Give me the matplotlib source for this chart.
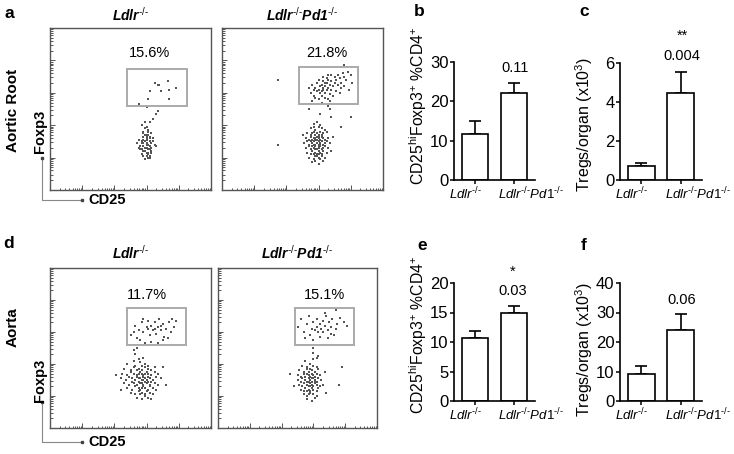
import matplotlib
matplotlib.use("Agg")
import matplotlib.pyplot as plt
from matplotlib.lines import Line2D
from matplotlib.patches import Rectangle
from matplotlib.ticker import LogLocator, NullFormatter

plt.rcParams['font.family'] = ['Liberation Sans', 'DejaVu Sans']
plt.rcParams['mathtext.fontset'] = 'custom'
plt.rcParams['mathtext.rm'] = 'Liberation Sans'
plt.rcParams['mathtext.it'] = 'Liberation Sans:italic'
plt.rcParams['mathtext.bf'] = 'Liberation Sans:bold'
plt.rcParams['mathtext.bfit'] = 'Liberation Sans:italic:bold'
plt.rcParams['mathtext.sf'] = 'Liberation Sans'

# ---------------- data ----------------
genotypes = [r'$\mathit{Ldlr}^{\text{-/-}}$', r'$\mathit{Ldlr}^{\text{-/-}}\mathit{Pd1}^{\text{-/-}}$']
flow_titles = [r'$\mathbfit{Ldlr}^{\text{-/-}}$', r'$\mathbfit{Ldlr}^{\text{-/-}}\mathbfit{Pd1}^{\text{-/-}}$']

# percentages in gate
pct_root = ['15.6%', '21.8%']
pct_aorta = ['11.7%', '15.1%']

# gates (CD25 lo, CD25 hi, Foxp3 lo, Foxp3 hi) in channel units 0-100
gate_root = [(47.6, 85.3, 51.9, 74.7), (47.6, 84.7, 52.9, 75.7)]
gate_aorta = [(47.6, 84.5, 51.9, 75.0), (48.4, 85.7, 51.9, 75.0)]

# events (CD25, Foxp3) in channel units 0-100
ev_root_ldlr = [
    (65, 66), (68, 65), (67, 65), (73, 67), (78, 63), (74, 62), (69, 61), (62, 61), (74, 56), (61, 56),
    (55, 53), (60, 51), (67, 49), (66, 47), (64, 44), (62, 42),
    (57, 40), (59, 38), (61, 36), (63, 35), (58, 33), (60, 34), (62, 32), (55, 31), (64, 30), (60, 31),
    (58, 29), (61, 28), (59, 30), (56, 27), (62, 27), (60, 26), (57, 25), (63, 26), (65, 28), (58, 24),
    (60, 23), (61, 22), (59, 24), (62, 21), (54, 29), (66, 27), (60, 33), (58, 35), (57, 22), (61, 20),
    (63, 23), (59, 19), (60, 28), (62, 30), (58, 36), (56, 25), (61, 37), (64, 32), (59, 26), (60, 21),
    (57, 29), (62, 25), (60, 29), (58, 31), (61, 34), (63, 24), (59, 42), (55, 26), (60, 39), (62, 20),
    (58, 27), (61, 23), (60, 32), (59, 34), (57, 30), (63, 29), (60, 28), (62, 33), (58, 21), (61, 25),
]
ev_root_pd1 = [
    (55, 60), (57, 58), (58, 63), (59, 66), (60, 62), (61, 64), (62, 65), (62, 61), (63, 63), (63, 67),
    (64, 64), (64, 60), (65, 66), (65, 62), (66, 63), (66, 68), (67, 65), (67, 59), (68, 67), (68, 62),
    (69, 64), (70, 70), (70, 66), (71, 68), (72, 65), (72, 71), (73, 69), (74, 66), (75, 72), (76, 70),
    (77, 68), (78, 73), (80, 71), (79, 62), (56, 65), (58, 57), (60, 56), (62, 58), (64, 57), (66, 56),
    (61, 60), (59, 61), (57, 62), (65, 69), (63, 70), (68, 71), (74, 63), (71, 61), (69, 58), (60, 68),
    (56, 55), (54, 63), (67, 55), (73, 60), (76, 64), (81, 66), (62, 54), (66, 71), (64, 66), (63, 62),
    (35, 68), (76, 77), (67, 50), (54, 50), (61, 47), (68, 45), (80, 45), (74, 39), (35, 28), (66, 52),
    (57, 41), (61, 40), (59, 42), (55, 38), (58, 37), (60, 39), (62, 38), (64, 37), (57, 39),
    (53, 35), (55, 34), (57, 36), (58, 34), (59, 35), (61, 36), (62, 34), (63, 35), (65, 36), (60, 34), (56, 35),
    (52, 32), (54, 31), (55, 33), (57, 32), (58, 31), (59, 33), (60, 32), (61, 31), (62, 33), (63, 32),
    (64, 31), (66, 32), (56, 31), (60, 33), (58, 32),
    (51, 29), (53, 30), (54, 28), (56, 29), (57, 30), (58, 28), (59, 29), (60, 30), (60, 28), (61, 29),
    (62, 30), (63, 28), (64, 29), (65, 30), (67, 29), (59, 31), (61, 28), (57, 28), (55, 30),
    (52, 26), (54, 27), (55, 25), (57, 26), (58, 27), (59, 25), (60, 26), (61, 27), (62, 25), (63, 26),
    (64, 27), (66, 26), (60, 27), (58, 25), (56, 27),
    (53, 23), (55, 22), (56, 24), (58, 23), (59, 22), (60, 24), (61, 23), (62, 22), (63, 24), (65, 23),
    (57, 22), (60, 22), (54, 20), (57, 19), (58, 21), (60, 20), (61, 19), (62, 21), (64, 20), (59, 21),
    (56, 17), (60, 16), (63, 18), (58, 18), (69, 33), (68, 24), (50, 34),
]
ev_aorta_ldlr = [
    (50, 58), (53, 64), (55, 61), (57, 66), (58, 60), (60, 63), (61, 67), (62, 58), (63, 64), (64, 61),
    (65, 66), (66, 59), (67, 63), (68, 68), (69, 61), (70, 65), (71, 57), (72, 62), (74, 66), (75, 60),
    (76, 68), (77, 63), (56, 55), (59, 53), (63, 54), (67, 53), (70, 55), (73, 56), (52, 60), (61, 62),
    (65, 62), (69, 64), (78, 67), (54, 56), (58, 68), (52, 49), (53, 46), (55, 43), (54, 50),
    (55, 43), (58, 44), (52, 42), (48, 40), (53, 39), (56, 41), (59, 40), (61, 39), (57, 39),
    (46, 37), (50, 36), (52, 38), (55, 37), (57, 36), (59, 38), (61, 37), (63, 36), (65, 38), (54, 36),
    (45, 34), (48, 33), (50, 35), (52, 34), (54, 33), (56, 35), (57, 34), (58, 33), (60, 35), (61, 34),
    (63, 33), (65, 35), (67, 34), (55, 34), (59, 34),
    (44, 31), (47, 30), (49, 32), (51, 31), (53, 30), (54, 32), (56, 31), (57, 30), (58, 32), (59, 31),
    (60, 30), (61, 32), (62, 31), (64, 30), (66, 32), (69, 31), (55, 31), (58, 30),
    (46, 28), (49, 27), (51, 29), (52, 28), (54, 27), (55, 29), (57, 28), (58, 27), (59, 29), (60, 28),
    (62, 27), (63, 29), (65, 28), (67, 27), (56, 28), (61, 29),
    (48, 25), (51, 24), (53, 26), (55, 25), (56, 24), (58, 26), (59, 25), (61, 24), (62, 26), (64, 25),
    (66, 24), (57, 25), (50, 22), (53, 21), (55, 23), (57, 22), (59, 21), (60, 23), (62, 22), (64, 21),
    (56, 21), (54, 19), (57, 18), (59, 20), (61, 19), (63, 18), (41, 33), (70, 38), (72, 27), (44, 24),
]
ev_aorta_pd1 = [
    (50, 63), (52, 68), (54, 60), (56, 65), (58, 58), (59, 62), (60, 66), (62, 63), (63, 60), (64, 65),
    (65, 62), (66, 67), (67, 64), (68, 70), (69, 61), (70, 66), (71, 63), (72, 68), (74, 62), (75, 65),
    (77, 69), (79, 66), (81, 64), (55, 56), (60, 55), (64, 57), (69, 56), (73, 58), (57, 70), (62, 68),
    (67, 72), (74, 74), (61, 61), (66, 60), (71, 59),
    (60, 50), (60, 47), (63, 45), (45, 34), (78, 38), (76, 27), (62, 44),
    (55, 42), (60, 43), (53, 39), (56, 38), (58, 40), (60, 39), (62, 38),
    (51, 36), (54, 35), (56, 37), (57, 35), (59, 36), (61, 35), (63, 37), (58, 37),
    (50, 33), (52, 32), (54, 34), (55, 32), (57, 33), (58, 32), (59, 34), (60, 33), (61, 32), (62, 34),
    (64, 33), (56, 34),
    (50, 30), (52, 29), (53, 31), (55, 30), (56, 29), (57, 31), (58, 30), (59, 29), (60, 31), (61, 30),
    (62, 29), (63, 31), (65, 30), (57, 29), (59, 31), (61, 29),
    (51, 27), (53, 26), (54, 28), (56, 27), (57, 26), (58, 28), (59, 27), (60, 26), (61, 28), (62, 27),
    (64, 26), (66, 27), (58, 26),
    (52, 24), (54, 23), (55, 25), (57, 24), (58, 23), (59, 25), (60, 24), (62, 23), (63, 25), (56, 23),
    (54, 21), (56, 20), (58, 22), (60, 21), (62, 20), (57, 21), (56, 18), (59, 17), (61, 19),
    (48, 26), (67, 35), (68, 22),
]

# bar data: mean and SEM
root_pct_mean = [11.6, 22.0]
root_pct_sem = [3.3, 2.7]
root_cnt_mean = [0.72, 4.45]
root_cnt_sem = [0.16, 1.1]
aorta_pct_mean = [10.6, 15.0]
aorta_pct_sem = [1.3, 1.1]
aorta_cnt_mean = [9.3, 24.2]
aorta_cnt_sem = [2.4, 5.2]

p_root_pct = ['0.11']
p_root_cnt = ['**', '0.004']
p_aorta_pct = ['*', '0.03']
p_aorta_cnt = ['0.06']

# ---------------- figure ----------------
W, H = 734, 454
fig = plt.figure(figsize=(W / 100, H / 100), dpi=100)


def fax(x0, y0, x1, y1):
    return fig.add_axes([x0 / W, 1 - y1 / H, (x1 - x0) / W, (y1 - y0) / H])


def ftext(x, y, s, **kw):
    kw.setdefault('ha', 'center')
    kw.setdefault('va', 'center')
    return fig.text(x / W, 1 - y / H, s, **kw)


def flow_panel(box, events, gate, pct, pct_pos, title, title_y):
    x0, y0, x1, y1 = box
    # tick overlay (log decades)
    axt = fax(x0, y0, x1, y1)
    axt.set_xscale('log')
    axt.set_yscale('log')
    axt.set_xlim(1, 1e5)
    axt.set_ylim(1, 1e5)
    for a in (axt.xaxis, axt.yaxis):
        a.set_major_locator(LogLocator(base=10, numticks=20))
        a.set_minor_locator(LogLocator(base=10, subs=(2, 3, 4, 5, 6, 7, 8, 9), numticks=20))
        a.set_minor_formatter(NullFormatter())
    axt.tick_params(which='both', direction='in', colors='#555555', labelbottom=False,
                    labelleft=False, top=False, right=False, width=0.7)
    axt.tick_params(which='major', length=3.5)
    axt.tick_params(which='minor', length=1.8)
    for s in axt.spines.values():
        s.set_visible(False)
    axt.patch.set_visible(False)
    ax = fax(x0, y0, x1, y1)
    ax.patch.set_visible(False)
    ax.set_xlim(0, 100)
    ax.set_ylim(0, 100)
    ax.set_xticks([])
    ax.set_yticks([])
    for s in ax.spines.values():
        s.set_color('#555555')
        s.set_linewidth(1.0)
    ex = [e[0] for e in events]
    ey = [e[1] for e in events]
    ax.scatter(ex, ey, s=0.7, marker='s', color='#555555', linewidths=0)
    g0, g1, h0, h1 = gate
    ax.add_patch(Rectangle((g0, h0), g1 - g0, h1 - h0, fill=False, edgecolor='#aaaaaa', lw=1.4))
    ax.text(pct_pos[0], pct_pos[1], pct, ha='center', va='center', fontsize=10.5)
    ftext((x0 + x1) / 2, title_y, title, fontsize=10)


flow_panel((50, 28, 211, 190), ev_root_ldlr, gate_root[0], pct_root[0], (62, 84.6), flow_titles[0], 15)
flow_panel((222, 28, 383, 190), ev_root_pd1, gate_root[1], pct_root[1], (65, 84.6), flow_titles[1], 15)
flow_panel((50, 268, 211, 428), ev_aorta_ldlr, gate_aorta[0], pct_aorta[0], (60, 83), flow_titles[0], 253)
flow_panel((218, 268, 377, 428), ev_aorta_pd1, gate_aorta[1], pct_aorta[1], (67, 83), flow_titles[1], 253)

# side labels and axis arrows
ftext(13, 110, 'Aortic Root', rotation=90, fontsize=11, fontweight='bold')
ftext(13, 327, 'Aorta', rotation=90, fontsize=11, fontweight='bold')
for (yv, yh, yfox) in [(158, 200, 131), (402, 442, 380)]:
    ftext(40, yfox, 'Foxp3', rotation=90, fontsize=10.5, fontweight='bold')
    ftext(107, yh, 'CD25', fontsize=10.5, fontweight='bold')
    fig.add_artist(Line2D([42 / W, 42 / W, 82 / W], [1 - yv / H, 1 - yh / H, 1 - yh / H],
                          color='#888888', lw=0.8))
    fig.add_artist(Line2D([42 / W, 82 / W], [1 - yv / H, 1 - yh / H], color='#444444',
                          lw=0, marker='s', markersize=1.8))


def bar_panel(box, means, sems, ylim, yticks):
    ax = fax(*box)
    x = [0, 1]
    ax.bar(x, means, width=0.68, color='white', edgecolor='black', linewidth=1.2, zorder=2)
    ax.errorbar(x, means, yerr=[[0, 0], sems], fmt='none', ecolor='black', elinewidth=1.2,
                capsize=4.3, capthick=1.2, zorder=1)
    ax.set_xlim(-0.55, 1.55)
    ax.set_ylim(*ylim)
    ax.set_yticks(yticks)
    ax.set_xticks(x)
    ax.set_xticklabels(['', ''])
    for xi, lab, dx in zip(x, genotypes, (-10, 17)):
        ax.annotate(lab, xy=(xi, 0), xycoords=ax.get_xaxis_transform(), xytext=(dx, -14),
                    textcoords='offset pixels', ha='center', va='center', fontsize=9.5,
                    annotation_clip=False)
    ax.tick_params(axis='y', labelsize=12, length=3, width=1.1, pad=1)
    ax.tick_params(axis='x', length=3, width=1.1, pad=2)
    for s in ['top', 'right']:
        ax.spines[s].set_visible(False)
    for s in ['left', 'bottom']:
        ax.spines[s].set_linewidth(1.2)
    ax.patch.set_visible(False)
    return ax


bar_panel((454, 62, 535, 180), root_pct_mean, root_pct_sem, (0, 30), [0, 10, 20, 30])
bar_panel((620, 63, 702, 180), root_cnt_mean, root_cnt_sem, (0, 6), [0, 2, 4, 6])
bar_panel((454, 283, 535, 401), aorta_pct_mean, aorta_pct_sem, (0, 20), [0, 5, 10, 15, 20])
bar_panel((620, 283, 702, 401), aorta_cnt_mean, aorta_cnt_sem, (0, 40), [0, 10, 20, 30, 40])

lab_pct = r'CD25$^{\mathrm{hi}}$Foxp3$^{+}$ %CD4$^{+}$'
lab_cnt = r'Tregs/organ (x10$^{3}$)'
ftext(418, 106, lab_pct, rotation=90, fontsize=11.3)
ftext(584, 124, lab_cnt, rotation=90, fontsize=11.5)
ftext(418, 335, lab_pct, rotation=90, fontsize=11.3)
ftext(584, 349, lab_cnt, rotation=90, fontsize=11.5)

# p-values
ftext(515, 68, p_root_pct[0], fontsize=10.5)
ftext(682, 36, p_root_cnt[0], fontsize=10.5)
ftext(682, 56, p_root_cnt[1], fontsize=10.5)
ftext(513, 272, p_aorta_pct[0], fontsize=10.5)
ftext(513, 291, p_aorta_pct[1], fontsize=10.5)
ftext(682, 300, p_aorta_cnt[0], fontsize=10.5)

# panel letters
for letter, (lx, ly) in zip('abcdef', [(9, 13), (419, 12), (584, 12), (9, 244), (422, 245), (584, 246)]):
    ftext(lx, ly, letter, fontsize=12.5, fontweight='bold')

fig.savefig('out.png', dpi=100)
